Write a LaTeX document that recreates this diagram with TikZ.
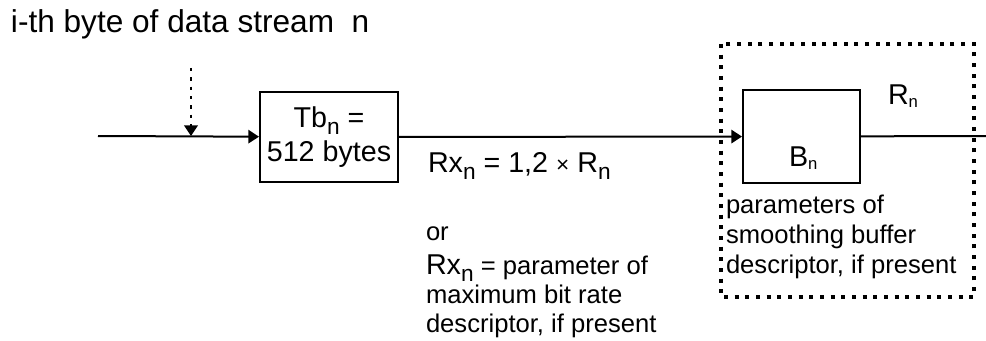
\documentclass[tikz,border=0pt]{standalone}
\usepackage{fontspec}
\setmainfont{Liberation Sans}
\usetikzlibrary{arrows.meta}
\newcommand{\lown}{\raisebox{-0.25em}{\fontsize{17}{17}\selectfont n}}
\newcommand{\smalln}{\raisebox{-0.12em}{\fontsize{12.5}{12.5}\selectfont n}}
\begin{document}
\begin{tikzpicture}[
        x=0.75pt, y=0.75pt,
        line width=1.5pt,
        >={Triangle[length=8pt,width=10pt]}
    ]
    \tikzset{
        mybox/.style = {rectangle, draw=black, align=center, inner sep=0pt,
                        font=\fontsize{21.5}{25}\selectfont},
        mytext/.style = {inner sep=0pt, align=left,
                        font=\fontsize{19.2}{22.5}\selectfont},
        myform/.style = {inner sep=0pt, font=\fontsize{21.5}{25}\selectfont},
        edgea/.style = {->},
        edged/.style = {->, line width=2.2pt, dash pattern=on 2.4pt off 4.6pt},
        boxd/.style = {line width=2.4pt, dash pattern=on 3pt off 5pt},
    }
        \useasboundingbox (0,0) rectangle (986,340);
        \node[anchor=base west, inner sep=0pt, font=\fontsize{23.7}{28}\selectfont]
            (title) at (10,307) {i-th byte of data stream\ \ n};
        %
        \coordinate (in) at (98,204);
        \coordinate (out) at (986,204);
        \coordinate (byte) at (191,272);
        \coordinate (hit) at (191,204);
        %
        \node[mybox, minimum width=103.5pt, minimum height=67.5pt]
            (tb) at (329,203) {Tb\lown\ =\\512 bytes};
        \node[mybox, minimum width=87.75pt, minimum height=69.75pt]
            (b) at (801.5,203.5) {};
        \node[myform, anchor=base west] (bn) at (788,174) {B\smalln};
        \node[myform, anchor=base west] (rn) at (887,236) {R\smalln};
        %
        % last line of a block sits on the anchor
        \node[myform, anchor=base west] (rx) at (427,168)
            {Rx\lown\ = 1,2 {\fontsize{17}{17}\selectfont ×} R\lown};
        \node[mytext, anchor=base west, font=\fontsize{19.2}{21.5}\selectfont] (or) at (425,8)
            {or\\[4pt]{\fontsize{21.5}{25}\selectfont Rx\lown} = parameter of\\maximum bit rate\\descriptor, if present};
        \node[mytext, anchor=base west] (par) at (725,67)
            {parameters of\\smoothing buffer\\descriptor, if present};
        %
        \draw[edgea] (in) -- (tb);
        \draw[edged] (byte) -- (hit);
        \draw[edgea] (tb) -- (b);
        \draw (b) -- (out);
        %
        \draw[boxd] (721,296) rectangle (974,43);
    \end{tikzpicture}
\end{document}
